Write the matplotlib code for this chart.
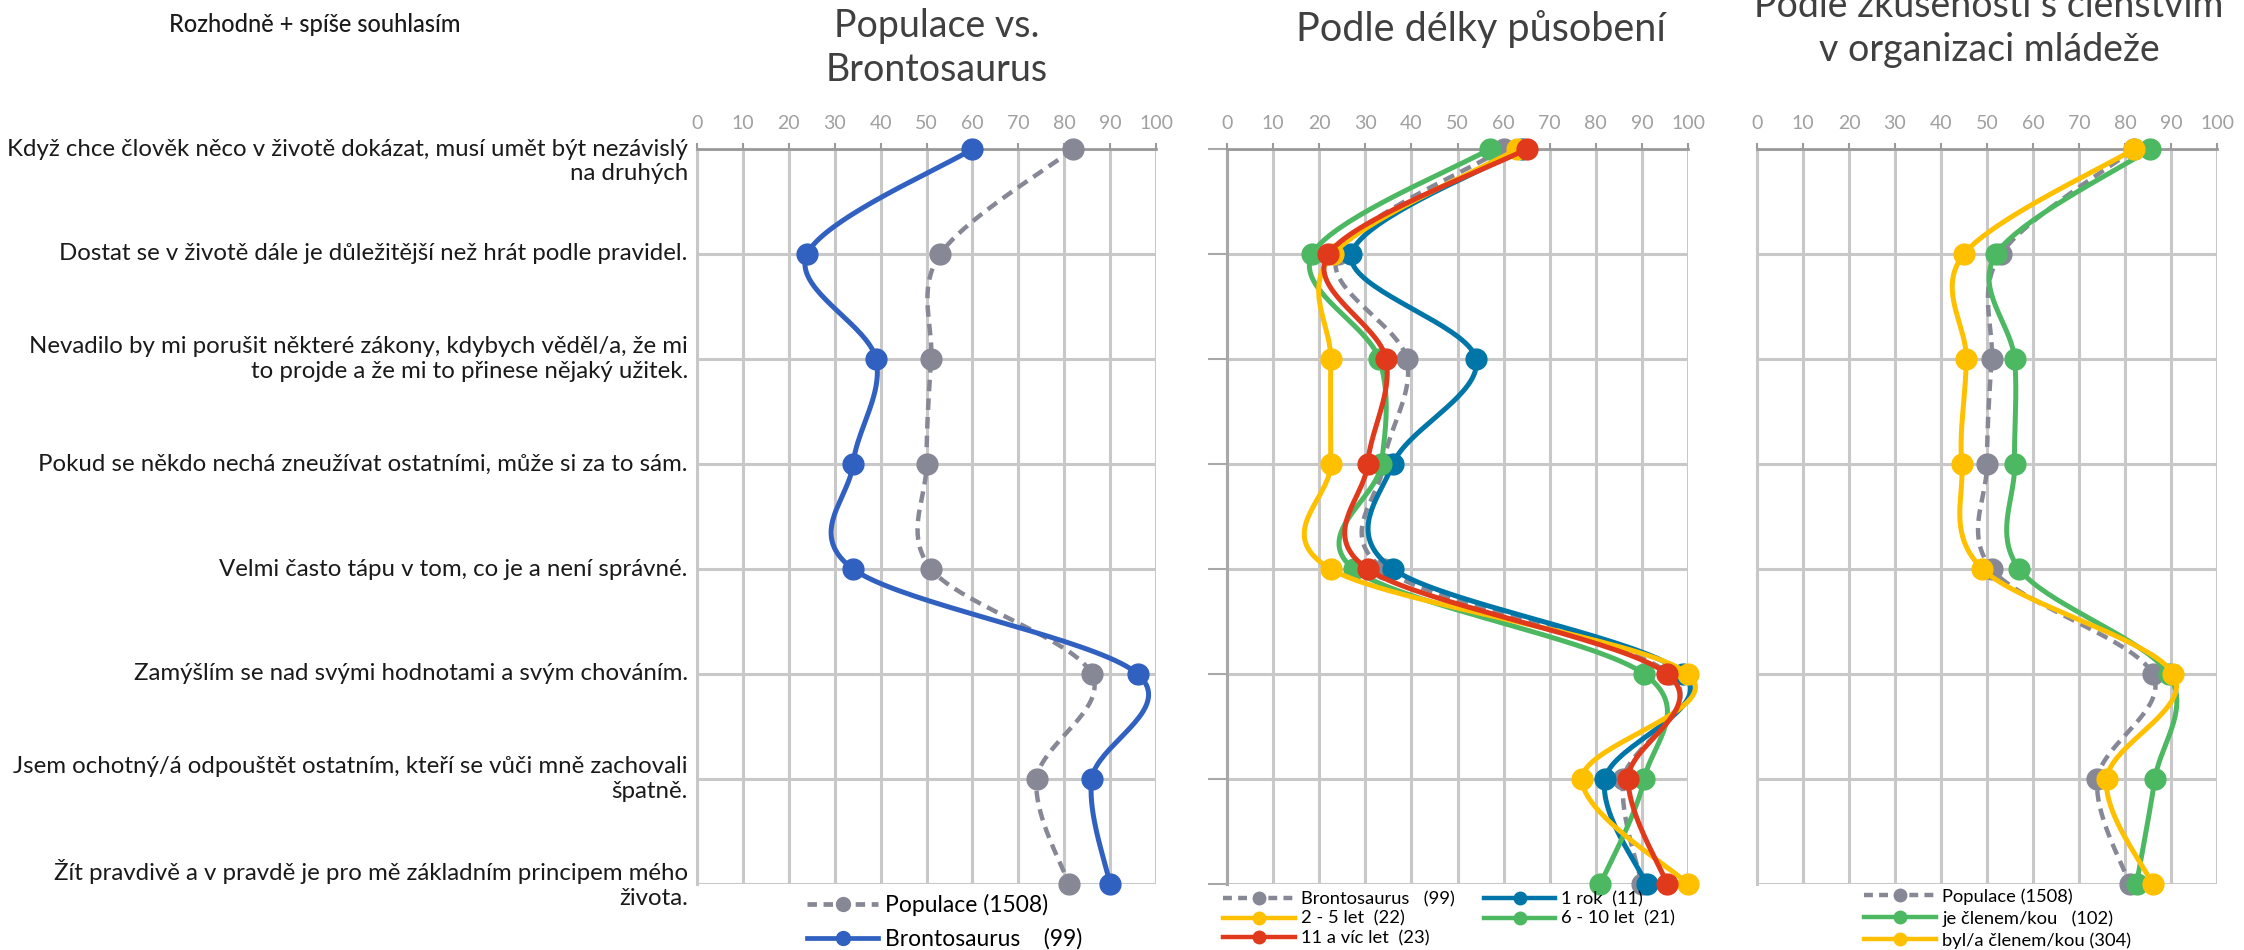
import numpy as np
import matplotlib
matplotlib.use("Agg")
import matplotlib.pyplot as plt
from matplotlib.lines import Line2D

# ---------------- data ----------------
categories = [
    "Když chce člověk něco v životě dokázat, musí umět být nezávislý\nna druhých",
    "Dostat se v životě dále je důležitější než hrát podle pravidel.",
    "Nevadilo by mi porušit některé zákony, kdybych věděl/a, že mi\nto projde a že mi to přinese nějaký užitek.",
    "Pokud se někdo nechá zneužívat ostatními, může si za to sám.",
    "Velmi často tápu v tom, co je a není správné.",
    "Zamýšlím se nad svými hodnotami a svým chováním.",
    "Jsem ochotný/á odpouštět ostatním, kteří se vůči mně zachovali\nšpatně.",
    "Žít pravdivě a v pravdě je pro mě základním principem mého\nživota.",
]
populace = [82, 53, 51, 50, 51, 86, 74, 81]
brontosaurus = [60, 24, 39, 34, 34, 96, 86, 90]
rok_1 = [64, 27, 54, 36, 36, 99, 82, 91]
let_2_5 = [63, 23, 22.5, 22.5, 22.5, 100, 77, 100]
let_6_10 = [57, 18.5, 33, 33.5, 27.5, 90.5, 90.5, 81]
let_11 = [65, 22, 34.5, 30.5, 30.5, 95.5, 87, 95.5]
clen_je = [85.5, 52, 56, 56, 57, 89.5, 86.5, 82.5]
clen_byl = [82, 45, 45.5, 44.5, 49, 90.5, 76, 86]
xticks = list(range(0, 101, 10))
titles = ["Populace vs.\nBrontosaurus", "Podle délky působení",
          "Podle zkušenosti s členstvím\nv organizaci mládeže"]

# ---------------- style ----------------
GRAY = "#878896"
BLUE = "#3060c0"
TEAL = "#0076a8"
YELLOW = "#ffc000"
GREEN = "#4db862"
RED = "#e0391b"
GRID = "#c8c8c8"
NARROW = ["Liberation Sans Narrow", "Lato", "DejaVu Sans"]
LABF = ["Lato", "DejaVu Sans"]

W, H = 2244, 950
fig = plt.figure(figsize=(W / 100, H / 100), dpi=100)

def fx(px):
    return px / W

def fy(py):
    return 1 - py / H

top_px, bot_px = 149, 884
panels_px = [(697, 1156), (1227, 1688), (1757, 2217)]
axes = []
for (l, r) in panels_px:
    ax = fig.add_axes([fx(l), fy(bot_px), (r - l) / W, (bot_px - top_px) / H])
    axes.append(ax)

LW = 3.6
MS = 15

def smooth(xs, sx, sy, n=40):
    """Catmull-Rom (Excel-like) smoothing in screen-scaled space."""
    ys = np.arange(len(xs), dtype=float)
    P = np.column_stack([np.asarray(xs, float) * sx, ys * sy])
    P = np.vstack([P[0], P, P[-1]])
    out = []
    for i in range(1, len(P) - 2):
        p0, p1, p2, p3 = P[i - 1], P[i], P[i + 1], P[i + 2]
        c1 = p1 + (p2 - p0) / 6.0
        c2 = p2 - (p3 - p1) / 6.0
        t = np.linspace(0, 1, n)[:, None]
        seg = ((1 - t) ** 3) * p1 + 3 * ((1 - t) ** 2) * t * c1 + 3 * (1 - t) * t ** 2 * c2 + t ** 3 * p2
        out.append(seg if i == 1 else seg[1:])
    out = np.vstack(out)
    return out[:, 0] / sx, out[:, 1] / sy

def draw(ax, vals, color, dashed=False, z=3):
    sx = 4.6  # px per unit x
    sy = 105.0  # px per row
    xs, ys = smooth(vals, sx, sy)
    kw = dict(color=color, lw=LW, zorder=z, clip_on=False, solid_capstyle="round")
    if dashed:
        kw["dashes"] = (2.6, 1.6)
        kw["lw"] = 3.2
    ax.plot(xs, ys, **kw)
    ax.plot(vals, np.arange(len(vals)), "o", color=color, ms=MS, zorder=z + 0.5,
            clip_on=False, mec=color)

def handle(color, dashed=False, ms=11, lw=LW):
    kw = dict(color=color, lw=lw, marker="o", ms=ms, markevery=[1])
    if dashed:
        kw["dashes"] = (2.0, 1.4)
    return Line2D([0, 0.5, 1], [0, 0, 0], **kw)

for i, ax in enumerate(axes):
    ax.set_xlim(0, 100)
    ax.set_ylim(7, 0)
    for x in xticks:
        ax.axvline(x, color=GRID, lw=2.2, zorder=1)
    for y in range(len(categories)):
        ax.axhline(y, color=GRID, lw=2.2, zorder=1)
    for s in ["right", "bottom"]:
        ax.spines[s].set_visible(False)
    ax.spines["top"].set_color("#9a9a9a")
    ax.spines["top"].set_linewidth(2)
    ax.spines["left"].set_color("#a8a8a8" if i == 1 else GRID)
    ax.spines["left"].set_linewidth(2.2)
    ax.xaxis.tick_top()
    ax.set_xticks(xticks)
    ax.set_xticklabels([str(v) for v in xticks], family=NARROW, fontsize=14, color="#a0a0a0")
    ax.tick_params(axis="x", length=4, width=1.5, color="#9a9a9a", pad=8)
    ax.set_yticks(range(len(categories)))
    if i == 1:
        ax.tick_params(axis="y", length=14, width=1.5, color="#a8a8a8", labelleft=False)
    else:
        ax.tick_params(axis="y", length=0, labelleft=False)
    ax.set_facecolor("none")

# category labels (left of first panel)
ax0 = axes[0]
for j, lab in enumerate(categories):
    dy = 0.12 if j == 0 else 0.0
    ax0.text(-2.0, j + dy, lab, ha="right", va="center", fontsize=17.3, family=LABF,
             color="#1a1a1a", linespacing=1.2, transform=ax0.transData, clip_on=False,
             multialignment="right")

# panel 1
draw(axes[0], populace, GRAY, dashed=True, z=3)
draw(axes[0], brontosaurus, BLUE, z=4)
fig.legend([handle(GRAY, True, 10, 3.4), handle(BLUE, ms=10, lw=3.4)],
           ["Populace (1508)", "Brontosaurus    (99)"],
           loc="upper left", bbox_to_anchor=(fx(807), fy(894)), bbox_transform=fig.transFigure,
           frameon=False, prop={"family": LABF, "size": 16.5}, handlelength=3.1,
           handletextpad=0.3, labelspacing=0.52, borderpad=0, borderaxespad=0)

# panel 2
draw(axes[1], brontosaurus, GRAY, dashed=True, z=3)
draw(axes[1], rok_1, TEAL, z=4)
draw(axes[1], let_6_10, GREEN, z=5)
draw(axes[1], let_2_5, YELLOW, z=6)
draw(axes[1], let_11, RED, z=7)
fig.legend([handle(GRAY, True, 9, 3.2), handle(YELLOW, ms=9, lw=3.2), handle(RED, ms=9, lw=3.2),
            handle(TEAL, ms=9, lw=3.2), handle(GREEN, ms=9, lw=3.2)],
           ["Brontosaurus   (99)", "2 - 5 let  (22)", "11 a víc let  (23)",
            "1 rok  (11)", "6 - 10 let  (21)"],
           ncol=2, loc="upper left", bbox_to_anchor=(fx(1223), fy(891)),
           bbox_transform=fig.transFigure, frameon=False,
           prop={"family": LABF, "size": 13.2}, handlelength=3.9, handletextpad=0.33,
           labelspacing=0.2, columnspacing=1.6, borderpad=0, borderaxespad=0)

# panel 3
draw(axes[2], populace, GRAY, dashed=True, z=3)
draw(axes[2], clen_je, GREEN, z=4)
draw(axes[2], clen_byl, YELLOW, z=5)
fig.legend([handle(GRAY, True, 9, 3.2), handle(GREEN, ms=9, lw=3.2), handle(YELLOW, ms=9, lw=3.2)],
           ["Populace (1508)", "je členem/kou   (102)", "byl/a členem/kou (304)"],
           loc="upper left", bbox_to_anchor=(fx(1864), fy(888)), bbox_transform=fig.transFigure,
           frameon=False, prop={"family": LABF, "size": 13.2}, handlelength=3.9,
           handletextpad=0.38, labelspacing=0.3, borderpad=0, borderaxespad=0)

# titles
fig.text(fx(937), fy(48), titles[0], ha="center", va="center", fontsize=27,
         family=NARROW, color="#404040", linespacing=1.25)
fig.text(fx(1481), fy(29), titles[1], ha="center", va="center", fontsize=28.5,
         family=NARROW, color="#404040")
fig.text(fx(1989), fy(28), titles[2], ha="center", va="center", fontsize=27,
         family=NARROW, color="#404040", linespacing=1.3)
fig.text(fx(315), fy(24), "Rozhodně + spíše souhlasím", ha="center", va="center",
         fontsize=17, family=NARROW, color="#1a1a1a", fontweight="medium")

fig.savefig("out.png", dpi=100, facecolor="white")
